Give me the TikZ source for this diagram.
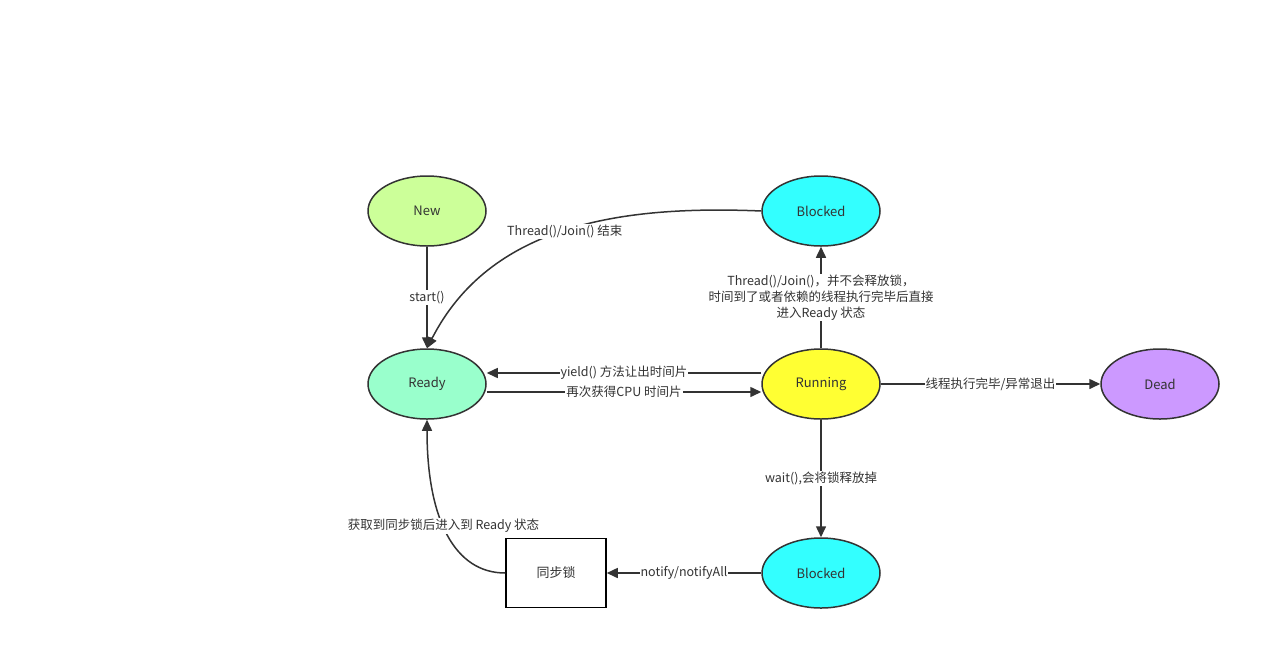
\documentclass[tikz,border=0pt]{standalone}
\usepackage{fontspec}
\setmainfont{Noto Sans CJK SC}
\usetikzlibrary{arrows.meta,shapes.geometric}
\definecolor{cnew}{HTML}{CCFF99}
\definecolor{cready}{HTML}{99FFCC}
\definecolor{cblock}{HTML}{33FFFF}
\definecolor{crun}{HTML}{FFFF33}
\definecolor{cdead}{HTML}{CC99FF}
\definecolor{cline}{HTML}{333333}
\begin{document}
\begin{tikzpicture}[x=1pt,y=-1pt,
  state/.style={ellipse,draw=cline,line width=1.5pt,minimum width=118pt,minimum height=70pt,inner sep=0pt,font=\fontsize{13}{16}\selectfont,text=cline},
  box/.style={rectangle,draw=black,line width=1.5pt,minimum width=100pt,minimum height=69pt,fill=white,font=\fontsize{13}{16}\selectfont,text=cline},
  conn/.style={draw=cline,line width=1.5pt,-{Triangle[length=11pt,width=10pt]}},
  lbl/.style={fill=white,inner sep=1pt,font=\fontsize{12.5}{16}\selectfont,text=cline,align=center}]
\useasboundingbox (0,0) rectangle (1281,670);
\fill[white] (0,0) rectangle (1281,670);
\node[state,fill=cnew] (new) at (427,211) {New};
\node[state,fill=cready] (ready) at (427,384) {Ready};
\node[state,fill=cblock] (blk1) at (821,211) {Blocked};
\node[state,fill=crun] (run) at (821,384) {Running};
\node[state,fill=cdead] (dead) at (1160,384) {Dead};
\node[state,fill=cblock] (blk2) at (821,573) {Blocked};
\node[box] (lock) at (556,573) {同步锁};

\draw[conn] (new) -- node[lbl] {start()} (ready);
\draw[conn] (blk1.west) .. controls (620,205) and (490,225) .. node[lbl,pos=0.5] {Thread()/Join() 结束} (ready.north);
\draw[conn] (run) -- node[lbl] {Thread()/Join()，并不会释放锁，\\时间到了或者依赖的线程执行完毕后直接\\进入Ready 状态} (blk1);
\draw[conn] (run.west |- 0,373) -- node[lbl] {yield() 方法让出时间片} (ready.east |- 0,373);
\draw[conn] (ready.east |- 0,392) -- node[lbl] {再次获得CPU 时间片} (run.west |- 0,392);
\draw[conn] (run) -- node[lbl] {线程执行完毕/异常退出} (dead);
\draw[conn] (run) -- node[lbl] {wait(),会将锁释放掉} (blk2);
\draw[conn] (blk2) -- node[lbl] {notify/notifyAll} (lock);
\draw[conn] (lock.west) .. controls (455,573) and (427,520) .. node[lbl,pos=0.55] {获取到同步锁后进入到 Ready 状态} (ready.south);
\end{tikzpicture}
\end{document}
